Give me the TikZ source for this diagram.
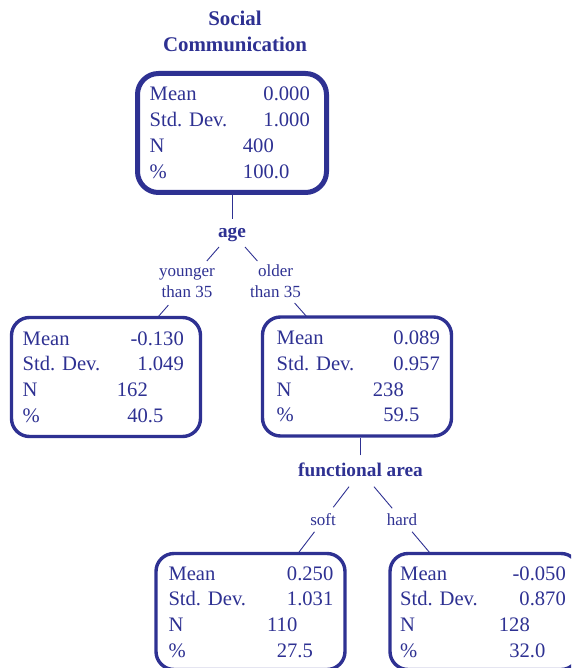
\documentclass[tikz,border=0pt]{standalone}
\usepackage{fontspec}
\setmainfont{Liberation Serif}
\usetikzlibrary{calc}
\definecolor{treeblue}{HTML}{2E3192}

\tikzset{
  every node/.style={text=treeblue, inner sep=0pt},
  statframe/.style={draw=treeblue, line width=3.4pt, rounded corners=18pt,
    minimum width=189pt, minimum height=119pt},
  rootframe/.style={statframe, line width=5pt, rounded corners=21pt},
  stat/.style={font=\fontsize{20.6}{24}\selectfont},
  title/.style={font=\bfseries\fontsize{20.9}{24}\selectfont, anchor=base},
  splitvar/.style={font=\bfseries\fontsize{19.3}{22}\selectfont, anchor=base},
  branch/.style={font=\fontsize{17}{20}\selectfont, anchor=base},
  edge/.style={draw=treeblue, line width=0.9pt},
}

% four statistic rows of a tree node:
% #1 name prefix, #2 label x, #3 right edge of values, #4 first baseline,
% #5 mean, #6 std. dev., #7 N, #8 percent
\newcommand\statrows[8]{%
  \node[stat, anchor=base west] (#1-meanlbl) at (#2,#4) {Mean};
  \node[stat, anchor=base west] (#1-sdlbl) at (#2,#4+25.8) {Std. Dev.};
  \node[stat, anchor=base west] (#1-nlbl) at (#2,#4+51.6) {N};
  \node[stat, anchor=base west] (#1-pctlbl) at (#2,#4+77.4) {\%};
  \node[stat, anchor=base east] (#1-mean) at (#3,#4) {#5};
  \node[stat, anchor=base east] (#1-sd) at (#3,#4+25.8) {#6};
  \node[stat, anchor=base east] (#1-n) at (#3-36,#4+51.6) {#7};
  \node[stat, anchor=base east] (#1-pct) at (#3-20.5,#4+77.4) {#8};
}

\begin{document}
\begin{tikzpicture}[x=1pt, y=-1pt]
\useasboundingbox (0,0) rectangle (571,668);
\clip (0,0) rectangle (571,668);

% dependent variable
\node[title] (title1) at (235,26) {Social};
\node[title] (title2) at (235,52) {Communication};

% tree nodes
\node[rootframe] (root) at (232,133) {};
\statrows{root}{149.5}{310}{101}{0.000}{1.000}{400}{100.0}

\node[statframe] (lc) at (106,377) {};
\statrows{lc}{22.5}{184}{345}{-0.130}{1.049}{162}{40.5}

\node[statframe] (rc) at (357,376.5) {};
\statrows{rc}{276.5}{440}{344.5}{0.089}{0.957}{238}{59.5}

\node[statframe, minimum height=116pt] (bl) at (250.5,611.5) {};
\statrows{bl}{168.3}{333.5}{580}{0.250}{1.031}{110}{27.5}

\node[statframe, minimum height=116pt] (br) at (484.5,611.5) {};
\statrows{br}{400}{566}{580}{-0.050}{0.870}{128}{32.0}

% first split: age
\node[splitvar] (age) at (232,237) {age};
\draw[edge, shorten <=8pt] (age.north) -- (age.north |- root.south);

\node[branch] (young1) at (187,276) {younger};
\node[branch] (young2) at (187,297) {than 35};
\node[branch] (old1) at (275.5,276) {older};
\node[branch] (old2) at (275.5,297) {than 35};

\coordinate (age-l) at (219,247);
\coordinate (age-r) at (245,247);
\coordinate (lc-in) at (158,317);
\coordinate (rc-in) at (307,317);
\draw[edge] (age-l) -- ($(age-l)!0.2!(lc-in)$);
\draw[edge] ($(age-l)!0.83!(lc-in)$) -- (lc-in);
\draw[edge] (age-r) -- ($(age-r)!0.2!(rc-in)$);
\draw[edge] ($(age-r)!0.8!(rc-in)$) -- (rc-in);

% second split: functional area
\node[splitvar] (fa) at (360.5,476.7) {functional area};
\draw[edge, shorten <=7.5pt] (fa.north) -- (fa.north |- rc.south);

\node[branch] (soft) at (323,525) {soft};
\node[branch] (hard) at (402,525) {hard};

\coordinate (fa-l) at (349,486.7);
\coordinate (fa-r) at (374,486.7);
\coordinate (bl-in) at (298.3,553);
\coordinate (br-in) at (430,553);
\draw[edge] (fa-l) -- ($(fa-l)!0.31!(bl-in)$);
\draw[edge] ($(fa-l)!0.68!(bl-in)$) -- (bl-in);
\draw[edge] (fa-r) -- ($(fa-r)!0.325!(br-in)$);
\draw[edge] ($(fa-r)!0.68!(br-in)$) -- (br-in);
\end{tikzpicture}
\end{document}
